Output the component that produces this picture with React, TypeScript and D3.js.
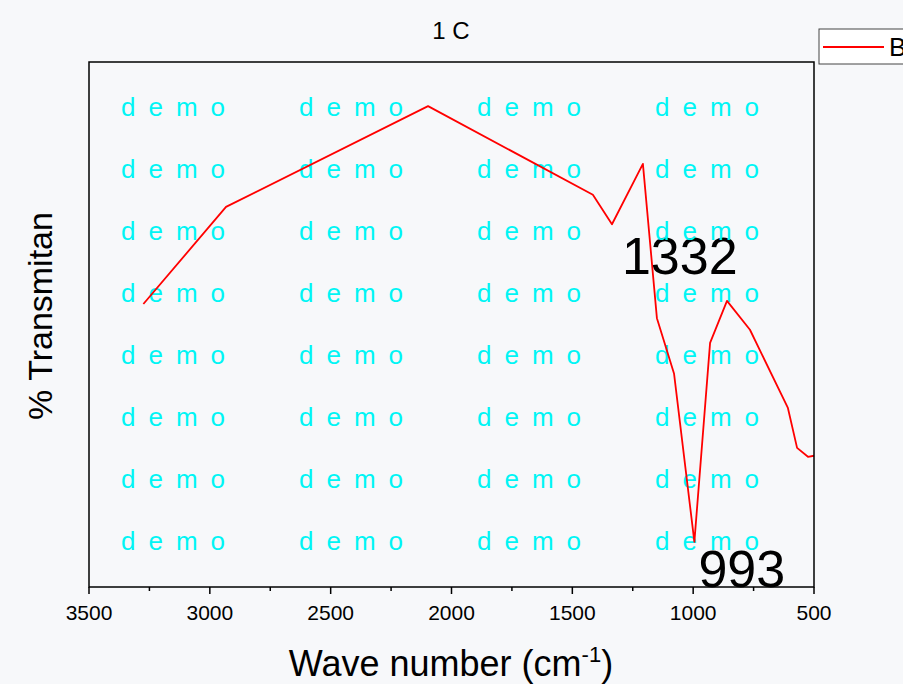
import React from 'react';
import * as d3 from 'd3';

// FTIR spectrum, series B
const waveNumbers = [3275, 2933, 2097, 1415, 1336, 1208, 1150, 1079, 995, 930, 860, 765, 608, 570, 525, 500];
const transmit = [53.9, 72.4, 91.6, 74.7, 69.1, 80.6, 51.2, 40.6, 8.6, 46.5, 54.5, 49.0, 34.1, 26.5, 24.8, 25.0];
const majorTicks = [3500, 3000, 2500, 2000, 1500, 1000, 500];
const minorTicks = [3250, 2750, 2250, 1750, 1250, 750];
const peakLabels = [
  { wn: 1336, t: 69.1, text: '1332', dx: 10, dy: 50 },
  { wn: 995, t: 8.6, text: '993', dx: 4, dy: 45 },
];

const W = 903;
const H = 684;
const margin = { top: 62, right: 89, bottom: 97, left: 89 };
const font = '"Liberation Sans", Arial, sans-serif';

export default function App() {
  const x = d3.scaleLinear().domain([3500, 500]).range([margin.left, W - margin.right]);
  const y = d3.scaleLinear().domain([0, 100]).range([H - margin.bottom, margin.top]);

  const line = d3.line<number>()
    .x((d, i) => x(waveNumbers[i]))
    .y((d) => y(d));

  const bottom = H - margin.bottom;

  // watermark grid
  const marks: [number, number][] = [];
  for (let r = 0; r < 8; r++) {
    for (let c = 0; c < 4; c++) marks.push([121 + c * 178, 116 + r * 62]);
  }

  return (
    <svg width={W} height={H} style={{ position: 'fixed', left: 0, top: 0, background: '#f7f8fa' }} fontFamily={font}>
      <rect width={W} height={H} fill="#f7f8fa" />
      <text x={451} y={39} fontSize={24} textAnchor="middle">1 C</text>

      {peakLabels.map((p) => (
        <text key={p.text} x={x(p.wn) + p.dx} y={y(p.t) + p.dy} fontSize={52}>{p.text}</text>
      ))}

      <g fill="#00f5f5" fontSize={26}>
        {marks.map(([mx, my], i) => (
          <text key={i} x={mx} y={my} textLength={104} lengthAdjust="spacing">d e m o</text>
        ))}
      </g>

      <path d={line(transmit) || ''} fill="none" stroke="#ff0000" strokeWidth={1.8} strokeLinejoin="round" />

      <rect x={margin.left} y={margin.top} width={W - margin.left - margin.right} height={bottom - margin.top}
        fill="none" stroke="#000" strokeWidth={1.5} />

      <g stroke="#000" strokeWidth={1.5}>
        {majorTicks.map((t) => <line key={t} x1={x(t)} x2={x(t)} y1={bottom} y2={bottom + 7} />)}
        {minorTicks.map((t) => <line key={t} x1={x(t)} x2={x(t)} y1={bottom} y2={bottom + 4} />)}
      </g>
      <g fontSize={21} textAnchor="middle">
        {majorTicks.map((t) => <text key={t} x={x(t)} y={620}>{t}</text>)}
      </g>

      <text x={451} y={676} fontSize={36} textAnchor="middle">
        Wave number (cm<tspan dy={-14} fontSize={22}>-1</tspan><tspan dy={14}>)</tspan>
      </text>
      <text transform="translate(52,316) rotate(-90)" fontSize={34} textAnchor="middle">% Transmitan</text>

      <rect x={819} y={29} width={100} height={35} fill="#fff" stroke="#444" strokeWidth={1} />
      <line x1={823} x2={884} y1={47} y2={47} stroke="#ff0000" strokeWidth={2} />
      <text x={889} y={56} fontSize={26}>B</text>
    </svg>
  );
}
